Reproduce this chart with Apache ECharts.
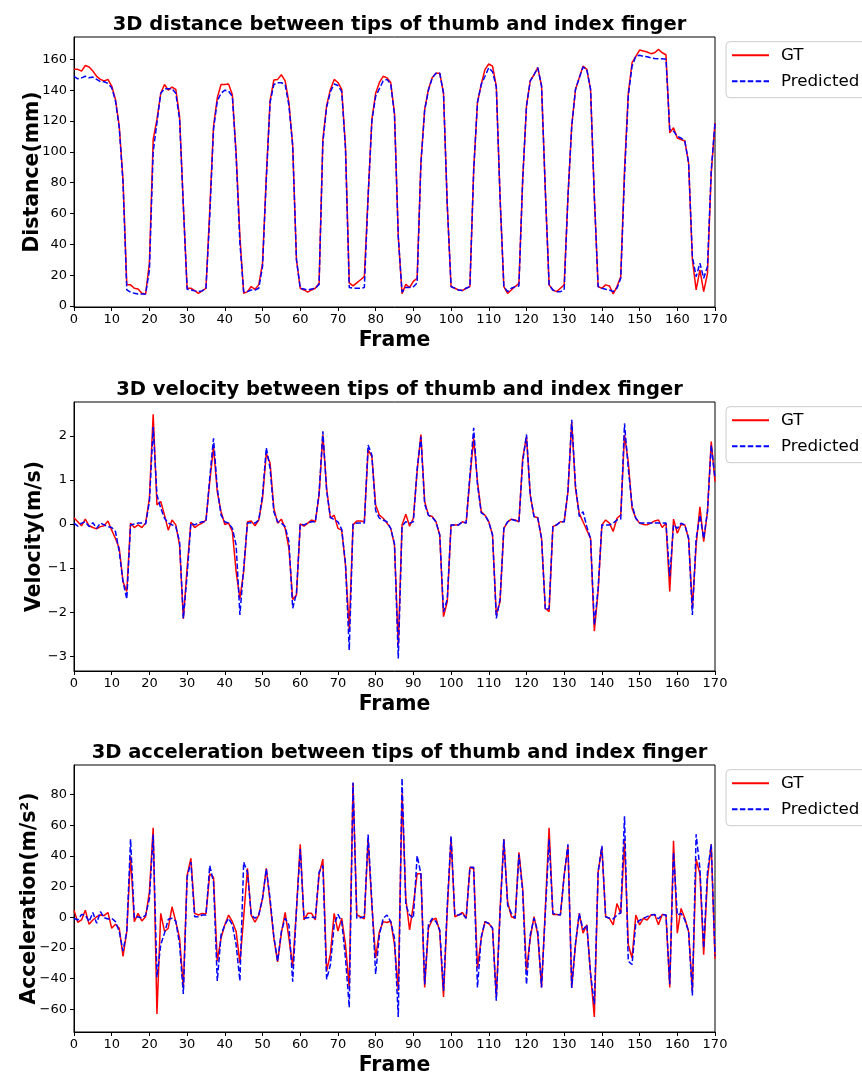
<!DOCTYPE html>
<html><head><meta charset="utf-8">
<script src="https://cdn.jsdelivr.net/npm/echarts@6/dist/echarts.min.js"></script>
<style>html,body{margin:0;padding:0;background:#fff}#c{width:862px;height:1077px}</style>
</head><body><div id="c"></div>
<script>
// ---------- data ----------
const seriesNames = ['GT', 'Predicted'];
const titles = ['3D distance between tips of thumb and index finger',
                '3D velocity between tips of thumb and index finger',
                '3D acceleration between tips of thumb and index finger'];
const yNames = ['Distance(mm)', 'Velocity(m/s)', 'Acceleration(m/s\u00b2)'];
const xName = 'Frame';
const xTicks = [0,10,20,30,40,50,60,70,80,90,100,110,120,130,140,150,160,170];
const distTicks = [0,20,40,60,80,100,120,140,160];
const velTicks = [-3,-2,-1,0,1,2];
const accTicks = [-60,-40,-20,0,20,40,60,80];

const distGT = [
153.5,153.5,152.4,156,155,152.4,149,147,146,147,
142.7,134,116.6,82,13.7,13.7,11.5,11,8.2,7.8,
27.8,108,121,138,143.7,140,142,140.5,123,65,
11.5,11.5,10,8.2,9.8,11.5,62,116.6,135,143.7,
143.7,144,137,99,45,8.2,9.3,12.6,10.8,13.7,
27.8,84,133,146.6,147,150,146,132,104,30,
11.5,10.4,9,10.4,11.5,14.7,108,130,140.5,147,
145,140.5,103.6,15,13,15,17,19,71,121,
138,145,149,148,145,125,45,8,14,12,
16,18,92.8,127.5,140.5,148,151,151,138,65,
12.6,11.5,10.4,10,11.5,12.6,88,132,143.7,153.5,
157,155.6,142.7,70,12.6,8.2,10.4,12.6,14.7,82,
129.6,146,150,154.6,142.7,75,13.7,10.4,9.3,11.5,
13.7,71,116.6,140.5,148,155.6,153.5,140.5,71,12.6,
11.5,13.7,13,7.8,12.6,19,88,138,157.8,162,
166,165.4,164.8,163.7,164.3,166.5,164.3,163,112.3,115.6,
109,108,107,92.8,30,10.4,23.4,9.3,21,86,
118.8];
const distPred = [
149,147.4,148,149,148,148.5,147,145.5,145.5,144.4,
141.6,133,115.6,80,10.4,9,8.2,7.8,7.8,7.8,
23.4,100,119,138,141,141,141,138,121,65,
10.8,10.4,9.8,9.3,9.8,11.5,58,114.5,133,138,
140,139.4,136,97,40.8,9.3,9.3,10.4,10.4,11.5,
25.6,82,132,143.7,144.8,144.8,143.7,130,104,30,
11.5,11,10.4,11,11.5,14,106,129,139,144,
143,139,102,12,11.5,11.5,11.5,12,71,120,
136,141,146,147,144,124,45,9,12,12,
12.5,15,92,127,140,148,151,151,138,65,
12.6,11.5,10.4,10,11.5,12.6,88,132,143.7,149,
154.6,152,142,70,12.6,9.3,11.5,12.6,13,82,
129.6,146,150,154.6,142.7,75,13.7,10.4,9.3,9.3,
10.4,71,116.6,140.5,148,155,153.5,140.5,71,12.6,
11.5,10.8,10.4,9.3,11.5,18,84,136,155.6,162,
162.6,162,161.7,161,160.6,160.4,160.4,160,114.5,113.4,
110,109,107,92.8,32,19,27.8,18,25.6,88,
119];
const velGT = [
0.14,0.05,-0.04,0.11,-0.04,-0.08,-0.11,-0.06,-0.04,0.07,
-0.14,-0.33,-0.55,-1.31,-1.53,0.02,-0.08,-0.02,-0.08,0.02,
0.58,2.49,0.43,0.51,0.2,-0.14,0.09,-0.02,-0.48,-2.15,
-1.0,0.04,-0.08,-0.02,0.02,0.09,0.96,1.75,0.73,0.28,
-0.01,0.02,-0.17,-1.08,-1.69,-1.08,0.05,0.07,-0.04,0.09,
0.58,1.6,1.38,0.36,0.02,0.11,-0.1,-0.55,-1.71,-1.61,
0,-0.05,0.02,0.09,0.05,0.66,2.02,0.81,0.13,0.2,
-0.1,-0.14,-0.93,-2.4,-0.02,0.07,0.07,0.05,1.68,1.53,
0.43,0.2,0.13,0.02,-0.1,-0.48,-2.75,-0.02,0.22,-0.05,
0.13,1.19,2.03,0.51,0.2,0.17,0.05,-0.25,-2.1,-1.76,
-0.02,-0.02,-0.02,0.05,0.02,1.04,1.94,0.96,0.28,0.2,
0.05,-0.25,-2.06,-1.76,-0.1,0.05,0.11,0.09,0.05,1.49,
1.98,0.66,0.17,0.14,-0.33,-1.91,-1.99,-0.06,-0.02,0.05,
0.05,0.73,2.32,0.81,0.24,0.05,-0.14,-0.33,-2.43,-1.53,
-0.02,0.09,0.02,-0.17,0.13,0.2,2.02,1.41,0.36,0.13,
0.02,-0.01,-0.02,0.02,0.07,0.09,-0.08,0.02,-1.53,0.11,
-0.21,-0.01,-0.02,-0.33,-1.91,-0.48,0.39,-0.4,0.28,1.87,
0.96];
const velPred = [
0.02,-0.05,0.02,0.05,-0.06,0.03,-0.1,0.02,-0.02,-0.06,
-0.08,-0.17,-0.63,-1.31,-1.7,-0.02,0,0.02,0.02,0,
0.51,2.2,0.66,0.36,0.13,0.02,-0.02,-0.06,-0.4,-2.14,
-1.16,0.02,-0.02,0.02,0.05,0.05,1.04,1.94,0.81,0.2,
0.05,0.02,-0.1,-0.48,-2.06,-1.0,0.02,0.03,0.02,0.09,
0.66,1.73,1.26,0.28,0.05,0.02,-0.06,-0.4,-1.91,-1.57,
0,-0.02,0.02,0.05,0.05,0.7,2.1,0.75,0.15,0.1,
0.05,-0.12,-0.9,-2.86,0,0.02,0.02,0.02,1.79,1.56,
0.3,0.13,0.09,0.05,-0.1,-0.45,-3.05,-0.05,0.05,0.02,
0.05,1.25,1.98,0.45,0.2,0.15,0.05,-0.25,-1.99,-1.7,
-0.02,-0.02,-0.02,0.05,0.02,1.1,2.18,0.9,0.25,0.2,
0.05,-0.25,-2.14,-1.7,-0.1,0.05,0.1,0.08,0.05,1.41,
2.03,0.66,0.17,0.14,-0.33,-1.95,-1.91,-0.06,-0.02,0.05,
0.05,0.75,2.36,0.88,0.17,0.28,-0.06,-0.33,-2.29,-1.46,
-0.02,-0.02,-0.02,0.02,0.09,0.11,2.28,1.26,0.43,0.13,
0.02,0.02,0.02,0.02,0.02,0.02,0.02,0.02,-1.19,-0.02,
-0.1,0.02,-0.02,-0.33,-2.06,-0.33,0.2,-0.33,0.28,1.79,
1.04];
const accGT = [
4.7,-3.2,-1.7,4.7,-4.5,-1.7,0.4,1.5,1.1,3.2,
-7.1,-4.5,-7.1,-25.4,-9.2,40,-2.8,2.6,-2.4,0.4,
16.6,58.5,-63,2.6,-9.2,-7.1,6.9,-2.8,-13.5,-45.8,
27.3,38.5,2.6,1.5,2.6,2.2,28.4,26.2,-28.6,-13.5,
-4.9,1.5,-2.8,-9.2,-29.7,0,32,1.5,-3.2,1.5,
12.3,32,10,-13.5,-29,-10.3,3.2,-13.5,-32,5,
47.7,-1.7,2.6,2.6,-1.7,28,38,-35,-24,2.6,
-9,-0.6,-17.8,-45.8,87.5,1.5,0.4,-1,51,8,
-26.5,-9.2,-2.8,-3.4,-2.4,-17.8,-48,81,12.3,-8.2,
8,28.4,28.4,-45.8,-7.1,-1.7,-0.6,-9.2,-52,5,
52,0.4,1.5,3.2,-0.6,32.7,31.6,-33,-13.5,-2.8,
-4,-7.1,-52,5,51,10,0.4,-0.6,42.4,18.7,
-35,-13.5,0.4,-11.4,-45.8,5.8,58.5,1.9,1.9,1.5,
27.3,46.7,-45.8,-17.8,2.6,-10.3,-4.9,-37,-65,29.5,
45.6,0.4,-0.6,-4.9,9,2.6,50,-17.8,-26.5,1.5,
-4.9,-0.6,-1.7,1.5,1.9,-4.9,1.9,1.5,-45.8,50,
-10.3,5.8,-0.6,-9.2,-48,38,28.4,-24.3,25,47.7,
-27];
const accPred = [
-0.6,-1.7,1.9,1.5,-2.8,3.2,-3.9,3.7,-0.2,-1.1,
-0.6,-2.8,-9.2,-22,-9.2,51,-0.6,0.4,-0.6,1.5,
12.3,54,-39,-17.8,-10.3,-1.3,-0.6,-2.4,-17.8,-50,
26.2,36,0.4,0.4,1.5,1.5,33.8,23,-41.5,-11.4,
-4.9,-0.6,-4.9,-17.8,-41.5,36,29.5,1.5,-0.6,1.5,
12.3,31.6,12.3,-12.5,-28.6,-9.2,-0.6,-5,-42,5,
44.5,-0.6,-0.2,0.2,-0.4,29.5,33.8,-40.4,-31,-5,
2,-2.8,-26.5,-58.7,88,-0.6,-0.2,0.4,54,10,
-37,-11.4,-0.6,1.5,-2.8,-13.5,-65,90.7,8,1.5,
-0.6,40.2,28.4,-43.7,-4.9,-0.6,-2.8,-8.2,-48,8,
53,1.5,1.5,2.5,-0.6,32.7,32.7,-45.8,-13,-2.8,
-4,-7.1,-54.4,3,51,8,2.6,-0.6,41,16.6,
-43.7,-11.4,-0.6,-9.2,-45.8,3,51,2.6,1.9,1.5,
27.3,47.7,-46,-17,2.6,-8,-4.9,-37,-56.6,29.5,
46.7,0.4,-0.6,-1,1.5,3,66,-28.6,-30.8,-4,
-2,-0.6,0.5,1.5,1.9,-1,1.9,1.5,-43.7,42.4,
1.5,2.6,-1.7,-9.2,-51,54.2,32,-20,29.5,47.7,
-25];

// ---------- layout ----------
const F = 'DejaVu Sans';
const gridTops = [37, 402, 765];
const gridHeights = [270, 269, 270];
const yNameGaps = [31, 29, 34];
const yRanges = [[-0.66, 174.5], [-3.333, 2.766], [-74.8, 99.4]];
const yTicks = [distTicks, velTicks, accTicks];
const pairs = [[distGT, distPred], [velGT, velPred], [accGT, accPred]];
const minus = v => String(v).replace('-', '\u2212');

const option = {
  animation: false,
  backgroundColor: '#fff',
  title: titles.map((t, i) => ({
    text: t, left: 394.5, textAlign: 'center', top: gridTops[i] - 27,
    textStyle: {fontFamily: F, fontSize: 19.5, fontWeight: 'bold', color: '#000'}
  })),
  grid: gridTops.map((t, i) => ({
    left: 74, top: t, width: 641, height: gridHeights[i],
    show: true, borderColor: '#000', borderWidth: 1, backgroundColor: 'transparent'
  })),
  legend: gridTops.map((t, i) => ({
    data: seriesNames, left: 726, top: t + 4.7, orient: 'vertical',
    itemWidth: 37, itemHeight: 12, itemGap: 7, padding: [4, 16, 7, 5],
    borderColor: '#cccccc', borderWidth: 1, borderRadius: 4, backgroundColor: '#fff',
    selectedMode: false,
    itemStyle: {opacity: 0},
    textStyle: {fontFamily: F, fontSize: 16.7, color: '#000', lineHeight: 19, padding: [0, 0, 0, 7]}
  })),
  xAxis: gridTops.map((t, i) => ({
    type: 'value', gridIndex: i, min: 0, max: 170, interval: 10,
    name: xName, nameLocation: 'middle', nameGap: 24, nameMoveOverlap: false,
    nameTextStyle: {fontFamily: F, fontSize: 20.4, fontWeight: 'bold', color: '#000'},
    axisLine: {onZero: false, lineStyle: {color: '#000', width: 1}},
    axisTick: {show: true, length: 4, lineStyle: {color: '#000'}, customValues: xTicks},
    axisLabel: {fontFamily: F, fontSize: 13, color: '#000', margin: 6, customValues: xTicks},
    splitLine: {show: false}
  })),
  yAxis: gridTops.map((t, i) => ({
    type: 'value', gridIndex: i, min: yRanges[i][0], max: yRanges[i][1],
    name: yNames[i], nameLocation: 'middle', nameRotate: 90, nameGap: yNameGaps[i], nameMoveOverlap: false,
    nameTextStyle: {fontFamily: F, fontSize: 20.4, fontWeight: 'bold', color: '#000'},
    axisLine: {show: true, onZero: false, lineStyle: {color: '#000', width: 1}},
    axisTick: {show: true, length: 4, lineStyle: {color: '#000'}, customValues: yTicks[i]},
    axisLabel: {fontFamily: F, fontSize: 13, color: '#000', margin: 7,
                customValues: yTicks[i], formatter: v => minus(v)},
    splitLine: {show: false}
  })),
  series: []
};
pairs.forEach((p, i) => {
  option.series.push({
    name: seriesNames[0], type: 'line', xAxisIndex: i, yAxisIndex: i,
    data: p[0].map((v, k) => [k, v]), symbol: 'none', smooth: false,
    lineStyle: {color: '#ff0000', width: 1.5, type: 'solid'}, itemStyle: {color: '#ff0000'}, z: 2
  });
  option.series.push({
    name: seriesNames[1], type: 'line', xAxisIndex: i, yAxisIndex: i,
    data: p[1].map((v, k) => [k, v]), symbol: 'none', smooth: false,
    lineStyle: {color: '#0000ff', width: 1.5, type: [5.5, 2.4]}, itemStyle: {color: '#0000ff'}, z: 3
  });
});
const chart = echarts.init(document.getElementById('c'), null, {renderer: 'canvas'});
chart.setOption(option);
</script></body></html>
